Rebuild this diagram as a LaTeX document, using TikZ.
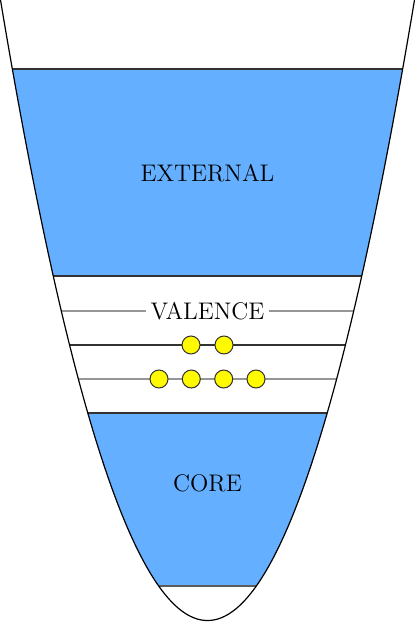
\documentclass[tikz,border=0pt]{standalone}
\usepackage{tikz}
\definecolor{bandblue}{RGB}{100,175,255}
\definecolor{lvlgray}{RGB}{150,150,150}
\definecolor{lvldark}{RGB}{50,50,50}
\definecolor{elyellow}{RGB}{255,250,0}
\tikzset{
  levelline/.style={lvlgray, line width=0.9pt},
  darkline/.style={lvldark, line width=0.6pt},
  electron/.style={circle, draw=lvldark, fill=elyellow, line width=0.5pt, minimum size=9pt, inner sep=0pt},
  bandlabel/.style={font=\large, inner sep=2.5pt},
}
\begin{document}
\begin{tikzpicture}[x=0.5pt,y=-0.5pt]
\useasboundingbox (0,0) rectangle (415,622);
\def\wellpath{plot[domain=-5:420, samples=240] (\x, {620.5-(0.12033*(\x-207.5))^2})}
\begin{scope}
  \clip \wellpath -- cycle;
  \fill[bandblue] (-10,69) rectangle (430,276);
  \fill[bandblue] (-10,413) rectangle (430,586);
  \draw[darkline] (-10,69) -- (430,69);
  \draw[darkline] (-10,276) -- (430,276);
  \draw[levelline] (-10,311) -- (430,311);
  \draw[darkline] (-10,345) -- (430,345);
  \draw[levelline] (-10,379) -- (430,379);
  \draw[darkline] (-10,413) -- (430,413);
  \draw[darkline, draw=lvldark!80] (-10,586) -- (430,586);
\end{scope}
\draw[black, line width=0.6pt] \wellpath;
\node[bandlabel] (ext) at (207.5,173.3) {EXTERNAL};
\node[bandlabel] (core) at (207.5,483.4) {CORE};
\node[bandlabel, fill=white] (val) at (207.5,311) {VALENCE};
\node[electron] (e1) at (191,345) {};
\node[electron] (e2) at (224,345) {};
\node[electron] (e3) at (159,379) {};
\node[electron] (e4) at (191.3,379) {};
\node[electron] (e5) at (223.7,379) {};
\node[electron] (e6) at (256,379) {};
\end{tikzpicture}
\end{document}
